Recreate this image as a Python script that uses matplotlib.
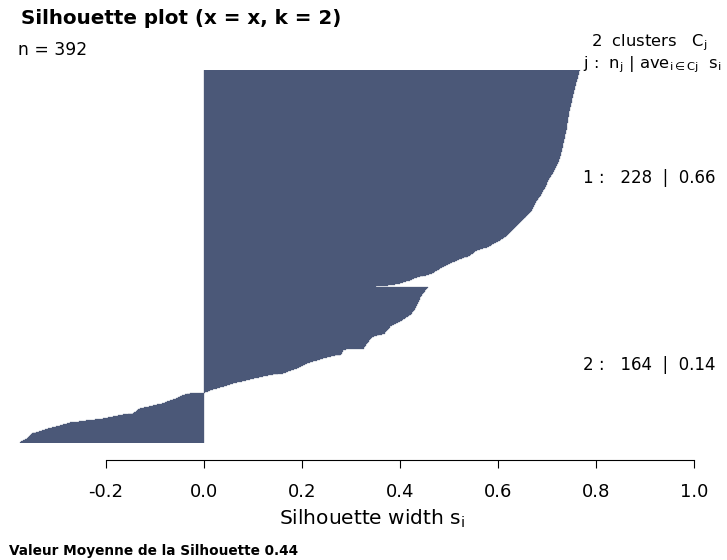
import matplotlib
matplotlib.use("Agg")
import matplotlib.pyplot as plt
import numpy as np

plt.rcParams['font.family'] = ['DejaVu Sans']
plt.rcParams['mathtext.default'] = 'regular'

# silhouette widths s_i, sorted decreasingly inside each cluster
clus1 = [0.767, 0.766, 0.766, 0.765, 0.765, 0.764, 0.764, 0.763, 0.763, 0.762,
         0.762, 0.761, 0.761, 0.760, 0.760, 0.759, 0.759, 0.758, 0.758, 0.757,
         0.757, 0.756, 0.756, 0.755, 0.755, 0.754, 0.754,
         0.753, 0.753, 0.752, 0.752, 0.751, 0.751, 0.750, 0.750, 0.749, 0.749,
         0.748, 0.748, 0.747, 0.747, 0.746, 0.746, 0.745, 0.745,
         0.745, 0.744, 0.744, 0.744, 0.743, 0.743, 0.743, 0.742, 0.742, 0.742,
         0.742, 0.741, 0.741, 0.741, 0.740, 0.740, 0.740, 0.740,
         0.739, 0.739, 0.738, 0.738, 0.737, 0.737, 0.737, 0.736, 0.736, 0.735,
         0.735, 0.735, 0.734, 0.734, 0.733, 0.733, 0.733,
         0.732, 0.732, 0.731, 0.731, 0.730, 0.730, 0.729, 0.729, 0.728, 0.728,
         0.727, 0.727, 0.726, 0.726, 0.725, 0.724, 0.724, 0.723,
         0.722, 0.721, 0.720, 0.719, 0.718, 0.717, 0.716, 0.715, 0.714, 0.713,
         0.712, 0.711, 0.709,
         0.708, 0.707, 0.706, 0.705, 0.704, 0.703,
         0.702, 0.701, 0.700, 0.699, 0.698, 0.697, 0.696, 0.695, 0.694, 0.692,
         0.691, 0.690, 0.689, 0.688, 0.687, 0.685, 0.684, 0.683, 0.682, 0.681, 0.679,
         0.678, 0.677, 0.676, 0.675, 0.674, 0.673, 0.672, 0.671, 0.670, 0.669,
         0.667, 0.665, 0.664, 0.662, 0.660, 0.658, 0.657, 0.655, 0.653, 0.651, 0.649,
         0.647, 0.645, 0.643, 0.641, 0.639, 0.637, 0.635, 0.633, 0.631, 0.628,
         0.626, 0.624, 0.622, 0.620, 0.618, 0.616, 0.614, 0.612, 0.610, 0.607, 0.604,
         0.600, 0.596, 0.592, 0.588, 0.585, 0.581, 0.577,
         0.570, 0.564, 0.557,
         0.554, 0.551, 0.548, 0.545, 0.542, 0.539, 0.536,
         0.531, 0.526, 0.521, 0.516, 0.512, 0.507, 0.502,
         0.498, 0.494, 0.490, 0.486, 0.482,
         0.479, 0.476, 0.472, 0.469, 0.465,
         0.459, 0.453, 0.447, 0.440, 0.434,
         0.429, 0.425, 0.420,
         0.413, 0.407, 0.400,
         0.390, 0.375, 0.351]

clus2 = [0.457, 0.455, 0.454, 0.452, 0.450, 0.449, 0.447, 0.445,
         0.444, 0.443, 0.442, 0.441, 0.440, 0.440, 0.439, 0.438, 0.437,
         0.436, 0.435, 0.434, 0.433, 0.432, 0.431, 0.430, 0.428, 0.427,
         0.425, 0.424, 0.422, 0.420, 0.419, 0.417,
         0.413, 0.410, 0.407, 0.404, 0.400,
         0.396, 0.392, 0.388, 0.384, 0.380,
         0.379, 0.377, 0.376, 0.374, 0.372, 0.370, 0.369,
         0.363, 0.358, 0.353, 0.347, 0.342,
         0.341, 0.339, 0.337, 0.336, 0.334, 0.333, 0.331, 0.330, 0.328,
         0.327, 0.326, 0.290, 0.284,
         0.283, 0.282, 0.281, 0.279, 0.278,
         0.268, 0.259, 0.250,
         0.243, 0.236, 0.230, 0.223, 0.216,
         0.211, 0.207, 0.202, 0.198, 0.193, 0.189,
         0.183, 0.178, 0.172, 0.167, 0.161,
         0.151, 0.141, 0.131, 0.121,
         0.112, 0.103, 0.094,
         0.085, 0.077, 0.068, 0.060,
         0.053, 0.047, 0.040, 0.033,
         0.026, 0.019, 0.012,
         0.008, 0.003, -0.029,
         -0.034, -0.039, -0.044, -0.049,
         -0.054, -0.058, -0.063,
         -0.069, -0.075, -0.080, -0.086,
         -0.095, -0.104, -0.113, -0.122, -0.131,
         -0.134, -0.136, -0.139, -0.142, -0.145,
         -0.155, -0.166, -0.176,
         -0.186, -0.196, -0.206,
         -0.223, -0.240, -0.256, -0.273,
         -0.280, -0.287, -0.294,
         -0.302, -0.310, -0.318,
         -0.324, -0.330, -0.337, -0.343, -0.349,
         -0.351, -0.353, -0.355, -0.357, -0.359, -0.361,
         -0.365, -0.369, -0.373, -0.376]

n_clus = [228, 164]
ave_clus = [0.66, 0.14]
ave_all = 0.44
xticks = [-0.2, 0.0, 0.2, 0.4, 0.6, 0.8, 1.0]
bar_col = '#4b5878'

W, H = 727, 560
fig = plt.figure(figsize=(W / 100, H / 100), dpi=100)


def fx(px):
    return px / W


def fy(py):
    return 1 - py / H


ax = fig.add_axes([0, fy(443), 1, (443 - 70) / H])
pos1 = np.arange(len(clus1))
pos2 = np.arange(len(clus2)) + len(clus1)
ax.barh(pos1, clus1, height=1.0, color=bar_col, edgecolor=bar_col, linewidth=0.2)
ax.barh(pos2, clus2, height=1.0, color=bar_col, edgecolor=bar_col, linewidth=0.2)
ax.set_ylim(pos2[-1] + 0.5, -0.5)
ax.set_xlim(-204 / 490, (W - 204) / 490)

for s in ['left', 'top', 'right']:
    ax.spines[s].set_visible(False)
ax.spines['bottom'].set_position(('outward', 12.2))
ax.spines['bottom'].set_bounds(xticks[0], xticks[-1])
ax.spines['bottom'].set_linewidth(0.8)
ax.set_yticks([])
ax.set_xticks(xticks)
ax.set_xticklabels(['%.1f' % t for t in xticks])
ax.tick_params(axis='x', length=5.8, width=0.8, pad=11, labelsize=13)

# cluster statistics
for k, (pos, nk, av) in enumerate(zip([pos1, pos2], n_clus, ave_clus)):
    ax.text((583 - 204) / 490, pos.mean(), '%d :   %d  |  %.2f' % (k + 1, nk, av),
            ha='left', va='center', fontsize=12, clip_on=False)

fig.text(fx(21), fy(24), 'Silhouette plot (x = x, k = 2)', fontsize=14.3,
         fontweight='bold', ha='left', va='baseline')
fig.text(fx(18), fy(55), 'n = %d' % sum(n_clus), fontsize=12.3, ha='left', va='baseline')
fig.text(fx(707), fy(46), '%d  clusters   $C_j$' % len(n_clus), fontsize=11.8,
         ha='right', va='baseline')
fig.text(fx(722), fy(68), r'j :  $n_j$ | $ave_{i\in Cj}$  $s_i$', fontsize=11.8,
         ha='right', va='baseline')
fig.text(fx(372), fy(525), 'Silhouette width $s_i$', fontsize=14.5, ha='center',
         va='baseline')
fig.text(fx(9), fy(555), 'Valeur Moyenne de la Silhouette %.2f' % ave_all,
         fontsize=9.8, fontweight='bold', ha='left', va='baseline')

fig.savefig('out.png', dpi=100)
